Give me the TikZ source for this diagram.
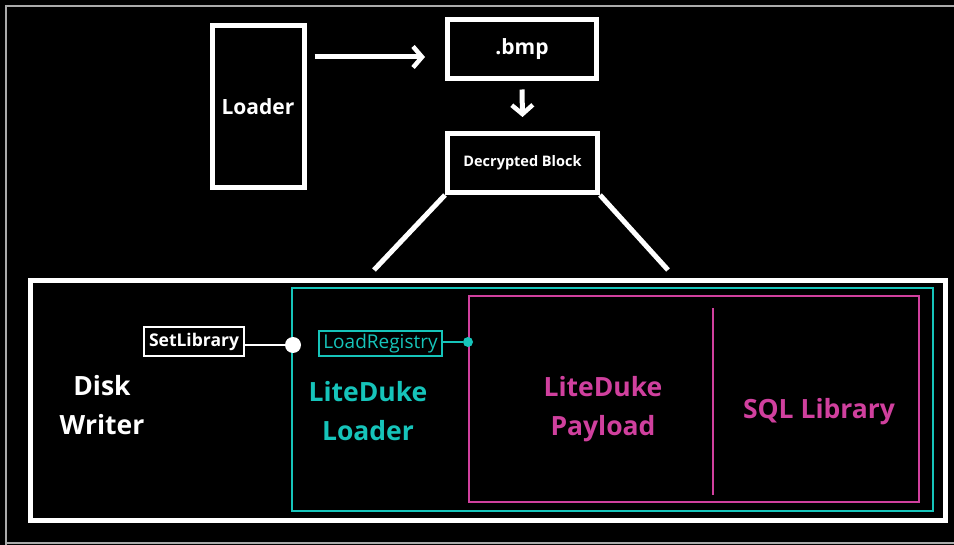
\documentclass[tikz,border=0pt]{standalone}
\usepackage{fontspec}
\setmainfont{Open Sans}
\usetikzlibrary{arrows.meta}
\definecolor{ldcyan}{RGB}{22,196,186}
\definecolor{ldmag}{RGB}{208,64,158}
\definecolor{frame}{RGB}{170,170,170}
\tikzset{
  wbox/.style={draw=white, line width=5pt, inner sep=0pt, text=white},
  smallbox/.style={draw, line width=1.6pt, inner sep=0pt},
  lbl/.style={font=\bfseries\fontsize{26.5}{38.5}\selectfont, align=center, inner sep=0pt},
  arr/.style={draw=white, line width=5pt, -{Straight Barb[length=9pt,width=21pt,line width=4.5pt]}},
}
\begin{document}
\begin{tikzpicture}[x=1pt,y=-1pt]
\fill[black] (0,0) rectangle (954,545);
\useasboundingbox (0,0) rectangle (954,545);
\draw[frame, line width=1.5pt] (6,546) -- (6,6) -- (956,6);
\draw[frame, line width=1.5pt] (6,543) -- (956,543);

% top boxes
\node[wbox, minimum width=92pt, minimum height=162pt, font=\bfseries\fontsize{21}{24}\selectfont] (loader) at (258,107) {Loader};
\node[wbox, minimum width=149pt, minimum height=59pt, font=\bfseries\fontsize{21}{24}\selectfont] (bmp) at (522,49) {.bmp};
\node[wbox, minimum width=150pt, minimum height=59pt, font=\bfseries\fontsize{14.5}{17}\selectfont] (dec) at (522.5,163) {Decrypted Block};

\draw[arr] ([yshift=50pt,xshift=8pt]loader.east) -- ([yshift=-8pt,xshift=-20pt]bmp.west);
\draw[arr] ([yshift=-8.5pt]bmp.south) -- ([yshift=14pt]dec.north);

% big containers
\node[draw=white, line width=5pt, minimum width=915pt, minimum height=239pt, inner sep=0pt] (big) at (487.5,400.5) {};
\node[draw=ldcyan, line width=2pt, minimum width=641pt, minimum height=223pt, inner sep=0pt] (cyanbox) at (612.5,399.5) {};
\node[draw=ldmag, line width=2pt, minimum width=450pt, minimum height=206pt, inner sep=0pt] (magbox) at (694,399) {};

\coordinate (trl) at (374,270);
\coordinate (trr) at (668,270);
\draw[white, line width=5pt] (dec.south west) -- (trl);
\draw[white, line width=5pt] (dec.south east) -- (trr);

\coordinate (divtop) at (713,308);
\coordinate (divbot) at (713,495);
\draw[ldmag, line width=2pt] (divtop) -- (divbot);

% small boxes and dots
\node[smallbox, draw=white, text=white, minimum width=100pt, minimum height=29pt, font=\bfseries\fontsize{17.5}{19}\selectfont] (setlib) at (194,341.5) {SetLibrary};
\node[circle, fill=white, minimum size=16pt, inner sep=0pt] (dot1) at (293,345) {};
\draw[white, line width=1.6pt] (setlib.east |- dot1) -- (dot1);

\node[smallbox, draw=ldcyan, text=ldcyan, minimum width=123pt, minimum height=25pt, font=\fontsize{19}{21}\selectfont] (loadreg) at (380.5,343.5) {LoadRegistry};
\node[circle, fill=ldcyan, minimum size=10pt, inner sep=0pt] (dot2) at (468,342) {};
\draw[ldcyan, line width=1.6pt] (loadreg.east |- dot2) -- (dot2);

% labels
\node[lbl, text=white] (disk) at (102,405) {Disk\\Writer};
\node[lbl, text=ldcyan] (ldl) at (368,411) {LiteDuke\\Loader};
\node[lbl, text=ldmag] (ldp) at (603,409) {LiteDuke\\Payload};
\node[lbl, text=ldmag] (sql) at (819,412) {SQL Library};
\end{tikzpicture}
\end{document}
